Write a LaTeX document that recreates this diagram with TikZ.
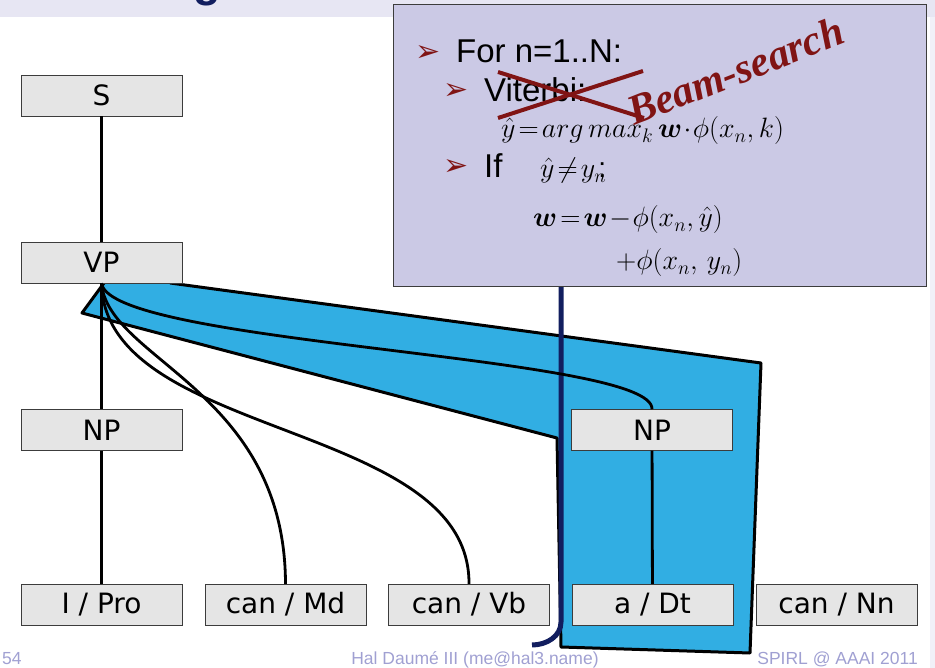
\RequirePackage{fix-cm}
\documentclass[tikz,border=0pt]{standalone}
\usepackage{amsmath}
\usepackage{fontspec}
\setmainfont{Liberation Sans}
\newfontfamily\dejavu{DejaVu Sans}
\newfontfamily\serifbi{Liberation Serif}
\definecolor{box-gray}{RGB}{229,229,229}
\definecolor{box-line}{RGB}{60,60,60}
\definecolor{note-purple}{RGB}{203,201,229}
\definecolor{band}{RGB}{231,230,243}
\definecolor{sky}{RGB}{49,174,227}
\definecolor{navy}{RGB}{18,30,95}
\definecolor{dark-red}{RGB}{128,20,20}
\definecolor{footer}{RGB}{160,160,210}

\begin{document}
\begin{tikzpicture}
[
  x=1pt, y=-1pt,
  box/.style={rectangle,draw=box-line,fill=box-gray,thin,minimum width=161pt,minimum height=41pt,inner sep=0pt,font=\dejavu\fontsize{28}{30}\selectfont},
  edge/.style={draw=black,line width=2.8pt},
  cross/.style={draw=dark-red,line width=4pt},
  txt/.style={anchor=base west,inner sep=0pt,font=\fontsize{33}{36}\selectfont},
  mth/.style={anchor=base west,inner sep=0pt,font=\fontsize{28}{30}\selectfont},
  bullet/.style={anchor=base west,inner sep=0pt,text=dark-red,font=\dejavu\fontsize{30}{32}\selectfont},
  foot/.style={anchor=base,inner sep=0pt,text=footer,font=\fontsize{17.5}{20}\selectfont},
]
\useasboundingbox (0,0) rectangle (935,668);
\fill[band] (0,0) rectangle (935,17);
\fill[band!60] (930,17) rectangle (935,668);
\begin{scope}
\clip (0,0) rectangle (935,17);
\node[inner sep=0pt,anchor=base,text=navy,font=\bfseries\fontsize{45}{45}\selectfont] (title) at (207,-3.5) {g};
\end{scope}

\fill[sky] (104,283) -- (82,313) -- (557,438) -- (561,647) -- (750,653) -- (761,363) -- (170,283) -- cycle;
\draw[line width=3pt,line join=round] (104,283) -- (82,313) -- (557,438) -- (561,647) -- (750,653) -- (761,363) -- (170,283);
\draw[navy,line width=5pt] (561,287) -- (561,622) to[out=-90,in=0] (532,645);

\node[box] (s) at (101.5,95.5) {S};
\node[box] (vp) at (101.5,262.5) {VP};
\node[box] (np-left) at (101.5,430) {NP};
\node[box] (np-right) at (652,430) {NP};
\foreach \x/\w/\n in {101.5/{I / Pro}/pro,285.5/{can / Md}/md,469/{can / Vb}/vb,652.5/{a / Dt}/dt,836.5/{can / Nn}/nn}
    \node[box] (\n) at (\x,604.5) {\w};

\draw[edge] (s) -- (vp);
\draw[edge] (vp) -- (np-left);
\draw[edge] (np-left) -- (pro);
\draw[edge] (np-right) -- (dt);
\draw[edge] (vp.south) .. controls (108,360) and (285,390) .. (md.north);
\draw[edge] (vp.south) .. controls (105,440) and (470,420) .. (vb.north);
\draw[edge] (vp.south) .. controls (110,345) and (655,355) .. (np-right.north);

\filldraw[draw=box-line,line width=1pt,fill=note-purple] (393,5) rectangle (926,287);
\node[bullet] (b-for) at (415,62) {➢};
\node[txt] (for) at (456,63) {For n=1..N:};
\node[bullet] (b-viterbi) at (443,100) {➢};
\node[txt] (viterbi) at (484,102) {Viterbi:};
\node[mth] (argmax) at (501,138) {$\hat{y}\!=\!arg\,max_k\,\boldsymbol{w}\!\cdot\!\phi(x_n,k)$};
\node[bullet] (b-if) at (443,176) {➢};
\node[txt] (if) at (484,178) {If};
\node[mth] (neq) at (540,178) {$\hat{y}\!\neq\! y_n$\llap{:}};
\node[mth] (update) at (533,227) {$\boldsymbol{w}\!=\!\boldsymbol{w}\!-\!\phi(x_n,\hat{y})$};
\node[mth] (update-b) at (616,270) {$+\phi(x_n,\,y_n)$};
\draw[cross] (498,72) -- (644,118);
\draw[cross] (498,118) -- (643,71);
\node[rotate=21.5,anchor=base west,inner sep=0pt,text=dark-red,font=\serifbi\bfseries\itshape\fontsize{42}{42}\selectfont] (beam) at (634,126) {Beam-search};

\node[foot,anchor=base west] (page) at (2,664) {54};
\node[foot] (author) at (475,664) {Hal Daumé III (me@hal3.name)};
\node[foot,anchor=base east] (venue) at (918,664) {SPIRL @ AAAI 2011};
\end{tikzpicture}
\end{document}
